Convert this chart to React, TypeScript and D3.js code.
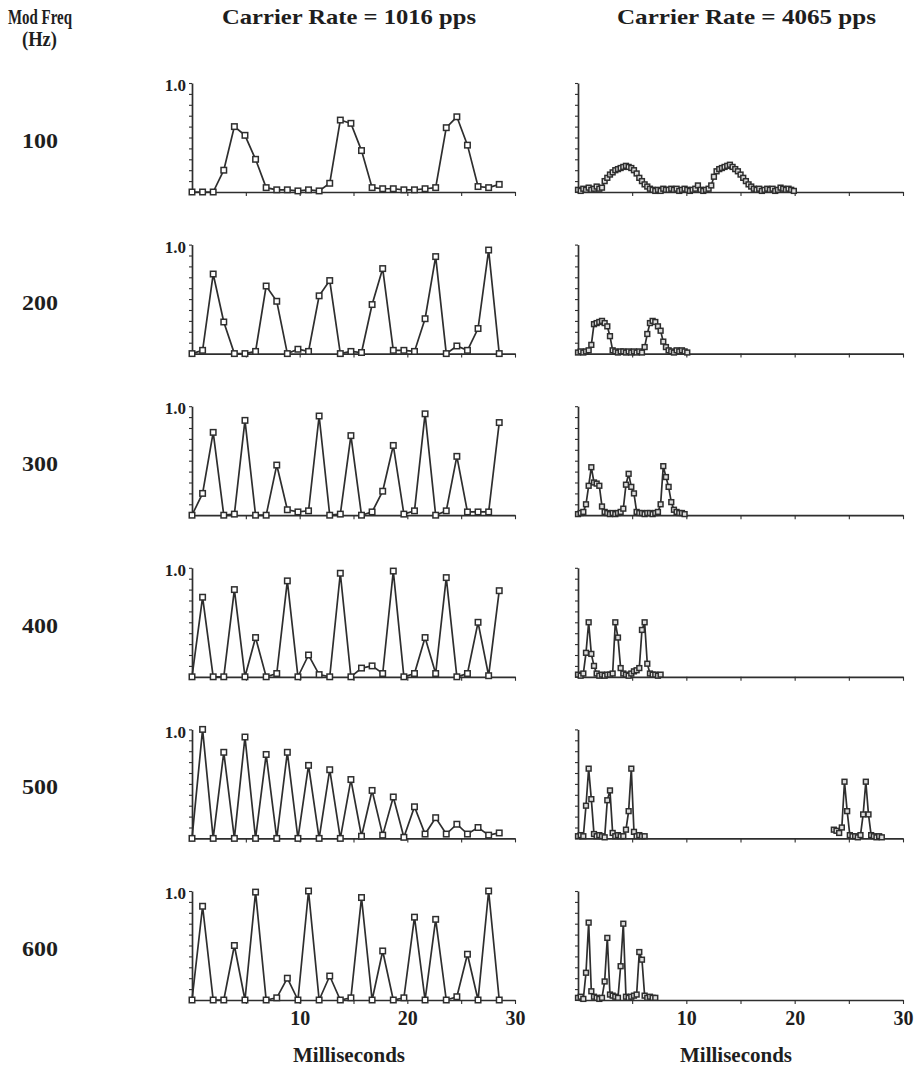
import React, { useEffect, useRef } from "react";
import * as d3 from "d3";

const modFreqs = ["100", "200", "300", "400", "500", "600"];
const carrierTitles = ["Carrier Rate = 1016 pps", "Carrier Rate = 4065 pps"];
const xTicks = [5, 10, 15, 20, 25, 30];
const xTickLabels = [10, 20, 30];

// time between pulses, ms
const slowStep = 0.984; // 1016 pps
const fastStep = 0.246; // 4065 pps

// 1016 pps: one value per pulse
const slow100 = [0, 0, 0, 0.2, 0.6, 0.52, 0.3, 0.04, 0.02, 0.02, 0.01, 0.02, 0.01, 0.08, 0.66, 0.63, 0.38, 0.04, 0.03, 0.03, 0.02, 0.02, 0.03, 0.04, 0.59, 0.69, 0.43, 0.05, 0.04, 0.07];
const slow200 = [0, 0.03, 0.73, 0.29, 0, 0, 0.02, 0.62, 0.48, 0, 0.04, 0.02, 0.53, 0.67, 0, 0.02, 0.01, 0.45, 0.78, 0.03, 0.03, 0.02, 0.32, 0.89, 0, 0.07, 0.03, 0.23, 0.95, 0];
const slow300 = [0, 0.2, 0.76, 0, 0.01, 0.87, 0, 0, 0.46, 0.05, 0.03, 0.04, 0.91, 0, 0.01, 0.73, 0, 0.03, 0.22, 0.64, 0.01, 0.04, 0.93, 0, 0.04, 0.54, 0.03, 0.03, 0.03, 0.85];
const slow400 = [0, 0.73, 0, 0, 0.8, 0, 0.36, 0, 0.03, 0.88, 0, 0.2, 0.02, 0, 0.95, 0, 0.08, 0.1, 0.03, 0.97, 0, 0.03, 0.36, 0.03, 0.91, 0, 0.03, 0.5, 0.01, 0.79];
const slow500 = [0, 1.0, 0, 0.79, 0, 0.93, 0, 0.77, 0, 0.79, 0, 0.67, 0, 0.63, 0, 0.54, 0.02, 0.44, 0.03, 0.38, 0.01, 0.29, 0.04, 0.19, 0.04, 0.13, 0.04, 0.1, 0.03, 0.05];
const slow600 = [0, 0.86, 0, 0, 0.5, 0, 0.99, 0, 0.02, 0.2, 0, 1.0, 0, 0.22, 0, 0.02, 0.94, 0, 0.45, 0, 0.02, 0.76, 0, 0.74, 0, 0.03, 0.42, 0, 1.0, 0];

// 4065 pps
const fast100 = [
  0.02, 0.01, 0.03, 0.02, 0.04, 0.02, 0.03, 0.05, 0.03, 0.04,
  0.1, 0.13, 0.16, 0.18, 0.2, 0.21, 0.22, 0.23, 0.24,
  0.23, 0.22, 0.2, 0.17, 0.13, 0.1, 0.07, 0.05,
  0.03, 0.02, 0.01, 0.02, 0.01, 0.03, 0.02, 0.02, 0.03, 0.02, 0.03, 0.01, 0.02, 0.03, 0.02, 0.01, 0.02, 0.03, 0.06, 0.02, 0.01, 0.02, 0.03,
  0.06, 0.14, 0.19, 0.21, 0.22, 0.23, 0.24, 0.25,
  0.23, 0.21, 0.19, 0.16, 0.13, 0.1, 0.07, 0.05, 0.03,
  0.02, 0.03, 0.01, 0.02, 0.03, 0.02, 0.03, 0.01, 0.02, 0.04, 0.03, 0.02, 0.03, 0.02, 0.01,
];
const fast200 = [
  0.01, 0.02, 0.01, 0.02, 0.03, 0.08, 0.27, 0.28, 0.29, 0.3, 0.28, 0.25, 0.16, 0.03,
  0.02, 0.01, 0.02, 0.02, 0.01, 0.02, 0.01, 0.02, 0.01, 0.02, 0.01,
  0.06, 0.18, 0.28, 0.3, 0.29, 0.25, 0.21, 0.11, 0.06, 0.03,
  0.02, 0.01, 0.03, 0.02, 0.03, 0.02, 0.01,
];
const fast300 = [
  0.01, 0.02, 0.03, 0.1, 0.27, 0.44, 0.3, 0.29, 0.27, 0.08, 0.03, 0.02,
  0.01, 0.02, 0.01, 0.02, 0.03,
  0.06, 0.28, 0.38, 0.26, 0.2, 0.03,
  0.02, 0.02, 0.01, 0.02, 0.02, 0.01, 0.02, 0.03,
  0.1, 0.45, 0.35, 0.26, 0.12, 0.05, 0.03, 0.02, 0.02, 0.01,
];
const fast400 = [
  0.02, 0.01, 0.03, 0.22, 0.5, 0.21, 0.1, 0.03, 0.01,
  0.02, 0.01, 0.02, 0.02,
  0.03, 0.5, 0.36, 0.08, 0.03,
  0.02, 0.01, 0.03,
  0.05, 0.06, 0.08, 0.43, 0.5, 0.12, 0.03, 0.02, 0.02, 0.01, 0.02,
];
const fast500a = [
  0.02, 0.03, 0.02, 0.3, 0.64, 0.36, 0.04, 0.02, 0.03, 0.02, 0.01,
  0.35, 0.44, 0.05, 0.02, 0.03, 0.02, 0.02,
  0.08, 0.25, 0.64, 0.06, 0.02, 0.03, 0.02, 0.02,
];
const fast500bStart = 96; // pulse index where the late segment begins
const fast500b = [
  0.08, 0.07, 0.05, 0.1, 0.52, 0.25, 0.03, 0.02, 0.02, 0.01,
  0.03, 0.22, 0.52, 0.22, 0.03, 0.02, 0.01, 0.02, 0.01,
];
const fast600 = [
  0.02, 0.03, 0.01, 0.25, 0.71, 0.08, 0.03, 0.02,
  0.01, 0.02, 0.17, 0.57, 0.05, 0.04, 0.03, 0.02,
  0.31, 0.7, 0.03, 0.02, 0.03, 0.04,
  0.05, 0.44, 0.37, 0.04, 0.02, 0.03, 0.02, 0.02,
];

const slowSeries = [slow100, slow200, slow300, slow400, slow500, slow600];
const fastSeries = [
  [{ start: 0, vals: fast100 }],
  [{ start: 0, vals: fast200 }],
  [{ start: 0, vals: fast300 }],
  [{ start: 0, vals: fast400 }],
  [{ start: 0, vals: fast500a }, { start: fast500bStart, vals: fast500b }],
  [{ start: 0, vals: fast600 }],
];

const W = 916;
const H = 1070;
const font = "'Liberation Serif', 'Times New Roman', serif";
const ink = "#2e2e2e";

export default function App() {
  const ref = useRef<SVGSVGElement>(null);

  useEffect(() => {
    const svg = d3.select(ref.current);
    svg.selectAll("*").remove();

    svg.append("rect").attr("width", W).attr("height", H).attr("fill", "#fff");

    const label = (txt: string, x: number, y: number, len: number, size = 20) =>
      svg.append("text")
        .attr("x", x)
        .attr("y", y)
        .attr("font-family", font)
        .attr("font-weight", "bold")
        .attr("font-size", size)
        .attr("fill", "#1e1e1e")
        .attr("textLength", len)
        .attr("lengthAdjust", "spacingAndGlyphs")
        .text(txt);

    label("Mod Freq", 8, 24, 64, 21);
    label("(Hz)", 22, 46, 35, 21);
    label(carrierTitles[0], 222, 24, 254, 21);
    label(carrierTitles[1], 617, 24, 259, 21);

    const xL = d3.scaleLinear().domain([0, 30]).range([192, 515]);
    const xR = d3.scaleLinear().domain([0, 30]).range([578, 903]);
    const rowBase = d3.scaleLinear().domain([0, 5]).range([192, 1000]);
    const panelH = 109;

    modFreqs.forEach((mf, r) => {
      const base = rowBase(r);
      const y = d3.scaleLinear().domain([0, 1]).range([base, base - panelH]);
      const last = r === modFreqs.length - 1;

      label(mf, 22, base - 44, 36, 22);

      [xL, xR].forEach((x, c) => {
        const g = svg.append("g");

        // axes
        const ax = g.append("g")
          .attr("transform", `translate(0,${base})`)
          .call(d3.axisBottom(x)
            .tickValues(xTicks)
            .tickSize(4)
            .tickSizeOuter(0)
            .tickPadding(7)
            .tickFormat(d => (last && xTickLabels.includes(+d) ? String(d) : "")));
        const ay = g.append("g")
          .attr("transform", `translate(${x(0)},0)`)
          .call(d3.axisLeft(y)
            .tickValues(d3.range(0, 11).map(i => i / 10))
            .tickSize(3)
            .tickSizeOuter(0)
            .tickPadding(3)
            .tickFormat(d => (c === 0 && +d === 1 ? "1.0" : "")));
        [ax, ay].forEach(a => {
          a.select(".domain").attr("stroke", ink).attr("stroke-width", 1.7);
          a.selectAll(".tick line").attr("stroke", ink).attr("stroke-width", 1.1);
          a.selectAll(".tick text")
            .attr("font-family", font)
            .attr("font-weight", "bold")
            .attr("fill", "#1e1e1e");
        });
        ax.selectAll(".tick text").attr("font-size", 20);
        ay.selectAll(".tick text").attr("font-size", 17).attr("dy", "0.45em");

        // data
        const segs = c === 0
          ? [{ step: slowStep, start: 0, vals: slowSeries[r] }]
          : fastSeries[r].map(s => ({ step: fastStep, start: s.start, vals: s.vals }));

        const line = d3.line<[number, number]>()
          .x(d => x(d[0]))
          .y(d => y(d[1]));
        const size = c === 0 ? 5.5 : 4.8;

        segs.forEach(s => {
          const pts: [number, number][] = s.vals.map((v, i) => [(s.start + i) * s.step, v]);
          g.append("path")
            .datum(pts)
            .attr("d", line)
            .attr("fill", "none")
            .attr("stroke", ink)
            .attr("stroke-width", 1.7);
          g.append("g")
            .selectAll("rect")
            .data(pts)
            .join("rect")
            .attr("x", d => x(d[0]) - size / 2)
            .attr("y", d => y(d[1]) - size / 2)
            .attr("width", size)
            .attr("height", size)
            .attr("fill", c === 0 ? "#fff" : "#ddd")
            .attr("stroke", ink)
            .attr("stroke-width", 1.5);
        });
      });
    });

    label("Milliseconds", 293, 1062, 112, 21);
    label("Milliseconds", 680, 1062, 112, 21);
  }, []);

  return (
    <svg
      ref={ref}
      width={W}
      height={H}
      style={{ position: "absolute", left: 0, top: 0 }}
    />
  );
}
